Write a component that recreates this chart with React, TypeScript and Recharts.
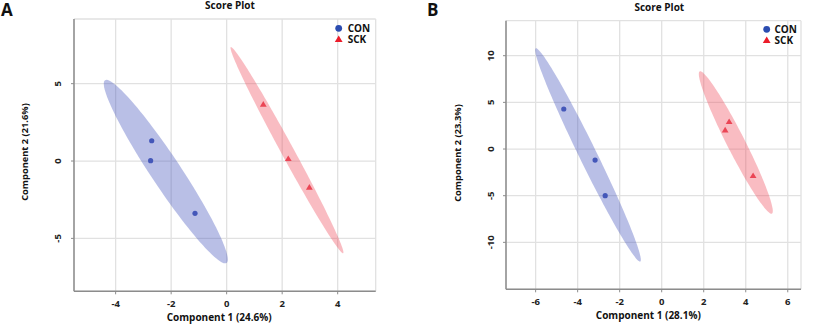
import React from 'react';
import { ScatterChart, Scatter, XAxis, YAxis, CartesianGrid, Legend } from 'recharts';

// ---------- data ----------
const groupNames = ['CON', 'SCK'];

const panelA_CON = [
  { x: -2.70, y: 1.31 },
  { x: -2.74, y: 0.02 },
  { x: -1.14, y: -3.38 },
];
const panelA_SCK = [
  { x: 1.32, y: 3.66 },
  { x: 2.22, y: 0.15 },
  { x: 2.98, y: -1.70 },
];
const panelB_CON = [
  { x: -4.66, y: 4.29 },
  { x: -3.17, y: -1.18 },
  { x: -2.69, y: -5.0 },
];
const panelB_SCK = [
  { x: 3.21, y: 2.93 },
  { x: 3.02, y: 2.04 },
  { x: 4.35, y: -2.86 },
];

const panelA_xTicks = [-4, -2, 0, 2, 4];
const panelA_yTicks = [-5, 0, 5];
const panelB_xTicks = [-6, -4, -2, 0, 2, 4, 6];
const panelB_yTicks = [-10, -5, 0, 5, 10];

const panelA_xDomain = [-5.5, 5.37];
const panelA_yDomain = [-8.42, 9.18];
const panelB_xDomain = [-7.41, 6.63];
const panelB_yDomain = [-15.03, 13.75];

const panelA_titles = { x: 'Component 1 (24.6%)', y: 'Component 2 (21.6%)' };
const panelB_titles = { x: 'Component 1 (28.1%)', y: 'Component 2 (23.3%)' };
const plotTitle = 'Score Plot';

// ---------- helpers ----------
const CHI2_95 = 5.991; // qchisq(0.95, 2)

function confidenceEllipse(pts: { x: number; y: number }[], segments = 120) {
  const n = pts.length;
  const mx = pts.reduce((s, p) => s + p.x, 0) / n;
  const my = pts.reduce((s, p) => s + p.y, 0) / n;
  let sxx = 0, syy = 0, sxy = 0;
  pts.forEach((p) => {
    sxx += (p.x - mx) ** 2;
    syy += (p.y - my) ** 2;
    sxy += (p.x - mx) * (p.y - my);
  });
  sxx /= n - 1; syy /= n - 1; sxy /= n - 1;
  const tr = sxx + syy;
  const det = sxx * syy - sxy * sxy;
  const disc = Math.sqrt(Math.max(tr * tr / 4 - det, 0));
  const l1 = tr / 2 + disc;
  const l2 = Math.max(tr / 2 - disc, 0);
  const theta = Math.atan2(l1 - sxx, sxy);
  const a = Math.sqrt(CHI2_95 * l1);
  const b = Math.sqrt(CHI2_95 * l2);
  const out: { x: number; y: number }[] = [];
  for (let i = 0; i <= segments; i++) {
    const t = (2 * Math.PI * i) / segments;
    out.push({
      x: mx + a * Math.cos(t) * Math.cos(theta) - b * Math.sin(t) * Math.sin(theta),
      y: my + a * Math.cos(t) * Math.sin(theta) + b * Math.sin(t) * Math.cos(theta),
    });
  }
  return out;
}

const FONT = '"Open Sans", Arial, sans-serif';
const BLUE = '#2b4cb0';
const RED = '#ec1c2a';
const BLUE_PT = '#4358b6';
const RED_PT = '#e8404f';

const CircleDot = (props: any) => <circle cx={props.cx} cy={props.cy} r={2.6} fill={BLUE_PT} />;
const TriDot = (props: any) => (
  <polygon
    points={`${props.cx},${props.cy - 3.3} ${props.cx - 3.4},${props.cy + 2.4} ${props.cx + 3.4},${props.cy + 2.4}`}
    fill={RED_PT}
  />
);
const Nothing = () => <g />;

const XTick = (props: any) => (
  <text x={props.x} y={props.y + 7.2} textAnchor="middle" dominantBaseline="central"
    fontFamily={FONT} fontWeight={700} fontSize={9.5} fill="#222">
    {props.payload.value}
  </text>
);
const makeYTick = (off: number) => (props: any) => {
  const cx = props.x - off;
  return (
    <text x={0} y={0} transform={`translate(${cx + 3.3},${props.y}) rotate(-90)`} textAnchor="middle"
      fontFamily={FONT} fontWeight={700} fontSize={9.5} fill="#222">
      {props.payload.value}
    </text>
  );
};

const LegendContent = (textX: number) => (props: any) => {
  const payload = (props.payload || []).filter((e: any) => e.type !== 'none' && e.value);
  return (
    <svg width={50} height={24} style={{ display: 'block', overflow: 'visible' }}>
      {payload.map((e: any, i: number) => {
        const cy = 5.3 + i * 11;
        return (
          <g key={i}>
            {e.type === 'triangle' ? (
              <polygon points={`4.7,${cy - 3.8} ${0.8},${cy + 2.8} ${8.6},${cy + 2.8}`} fill={RED} />
            ) : (
              <circle cx={4.7} cy={cy} r={3.4} fill={BLUE} />
            )}
            <text x={textX} y={cy + 3.6} fontFamily={FONT} fontWeight={700} fontSize={10} fill="#111">
              {e.value}
            </text>
          </g>
        );
      })}
    </svg>
  );
};

function Panel(props: any) {
  const { width, margin, xDomain, yDomain, xTicks, yTicks, con, sck, yTickOff, legendLeft, legendTop, legendTextX } = props;
  const conEllipse = confidenceEllipse(con);
  const sckEllipse = confidenceEllipse(sck);
  return (
    <ScatterChart width={width} height={325} margin={margin}>
      <CartesianGrid stroke="#e1e1e1" strokeWidth={1.3} />
      <XAxis type="number" dataKey="x" domain={xDomain} ticks={xTicks} allowDataOverflow height={30}
        tickSize={3} tickLine={{ stroke: '#8c8c8c' }} axisLine={{ stroke: '#8c8c8c', strokeWidth: 1.5 }}
        tick={<XTick />} interval={0} />
      <XAxis xAxisId="top" orientation="top" type="number" dataKey="x" domain={xDomain} allowDataOverflow
        height={0} tick={false} tickLine={false} axisLine={{ stroke: '#c4c4c4', strokeWidth: 1.3 }} />
      <YAxis type="number" dataKey="y" domain={yDomain} ticks={yTicks} allowDataOverflow width={40}
        tickSize={3} tickLine={{ stroke: '#8c8c8c' }} axisLine={{ stroke: '#8c8c8c', strokeWidth: 1.5 }}
        tick={makeYTick(yTickOff)} interval={0} />
      <YAxis yAxisId="right" orientation="right" type="number" dataKey="y" domain={yDomain} allowDataOverflow
        width={0} tick={false} tickLine={false} axisLine={{ stroke: '#c4c4c4', strokeWidth: 1.3 }} />
      <Scatter name={groupNames[0]} data={con} fill={BLUE} shape={CircleDot} legendType="circle" isAnimationActive={false} />
      <Scatter name={groupNames[1]} data={sck} fill={RED} shape={TriDot} legendType="triangle" isAnimationActive={false} />
      <Scatter data={conEllipse} fill="#4656bd" shape={Nothing} legendType="none" isAnimationActive={false}
        line={{ fill: '#4656bd', fillOpacity: 0.38, stroke: 'none' }} lineJointType="linear" />
      <Scatter data={sckEllipse} fill="#f0505e" shape={Nothing} legendType="none" isAnimationActive={false}
        line={{ fill: '#f0505e', fillOpacity: 0.38, stroke: 'none' }} lineJointType="linear" />
      <Legend layout="vertical" align="center" verticalAlign="middle"
        wrapperStyle={{ position: 'absolute', left: legendLeft, top: legendTop, width: 50, height: 24 }}
        content={LegendContent(legendTextX)} />
    </ScatterChart>
  );
}

export default function App() {
  return (
    <div style={{ position: 'absolute', left: 0, top: 0, width: 827, height: 325, background: '#fff', overflow: 'hidden' }}>
      <div style={{ position: 'absolute', left: 0, top: 0 }}>
        <Panel width={420} margin={{ top: 19, right: 44.3, bottom: 3.7, left: 34 }}
          xDomain={panelA_xDomain} yDomain={panelA_yDomain} xTicks={panelA_xTicks} yTicks={panelA_yTicks}
          con={panelA_CON} sck={panelA_SCK} yTickOff={11} legendLeft={334} legendTop={23} legendTextX={13.7} />
      </div>
      <div style={{ position: 'absolute', left: 420, top: 0 }}>
        <Panel width={407} margin={{ top: 20.7, right: 26, bottom: 5.7, left: 46 }}
          xDomain={panelB_xDomain} yDomain={panelB_yDomain} xTicks={panelB_xTicks} yTicks={panelB_yTicks}
          con={panelB_CON} sck={panelB_SCK} yTickOff={10} legendLeft={342} legendTop={23.7} legendTextX={12.5} />
      </div>
      <svg width={827} height={325} style={{ position: 'absolute', left: 0, top: 0, pointerEvents: 'none' }}>
        <g fontFamily={FONT} fontWeight={700} fill="#111">
          <text x={1} y={15.5} fontSize={17}>A</text>
          <text x={427} y={15.5} fontSize={17}>B</text>
          <text x={230} y={9.4} fontSize={10} textAnchor="middle">{plotTitle}</text>
          <text x={659.3} y={11} fontSize={10} textAnchor="middle">{plotTitle}</text>
          <text x={219.2} y={321} fontSize={10} textAnchor="middle">{panelA_titles.x}</text>
          <text x={648.3} y={319} fontSize={10} textAnchor="middle">{panelB_titles.x}</text>
          <text x={0} y={0} fontSize={9.3} textAnchor="middle" transform="translate(28.3,152) rotate(-90)">{panelA_titles.y}</text>
          <text x={0} y={0} fontSize={9.3} textAnchor="middle" transform="translate(460.8,153) rotate(-90)">{panelB_titles.y}</text>
        </g>
      </svg>
    </div>
  );
}
